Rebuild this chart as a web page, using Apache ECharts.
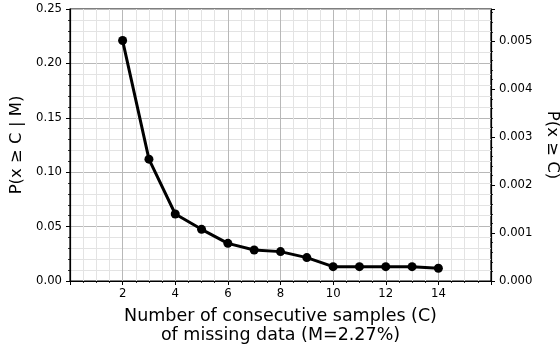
<!DOCTYPE html>
<html>
<head>
<meta charset="utf-8">
<script src="https://cdn.jsdelivr.net/npm/echarts@6/dist/echarts.min.js"></script>
<style>html,body{margin:0;padding:0;background:#fff;}#c{width:560px;height:350px;}</style>
</head>
<body>
<div id="c"></div>
<script>
const consecutiveSamples = [2, 3, 4, 5, 6, 7, 8, 9, 10, 11, 12, 13, 14];
const probGivenM = [0.221, 0.112, 0.0616, 0.0475, 0.0346, 0.0285, 0.0270, 0.0215, 0.0132, 0.0132, 0.0132, 0.0132, 0.0117];
const missingRate = 0.0227;
const xTitle = 'Number of consecutive samples (C)\nof missing data (M=2.27%)';
const leftTitle = 'P(x \u2265 C | M)';
const rightTitle = 'P(x \u2265 C)';

const FONT = 'DejaVu Sans';
const chart = echarts.init(document.getElementById('c'), null, {renderer: 'canvas'});
const axisLine = {show: true, lineStyle: {color: '#000', width: 1.2}};
chart.setOption({
  animation: false,
  backgroundColor: '#fff',
  grid: {left: 70, right: 69, top: 9, bottom: 69, show: true, borderColor: '#000', borderWidth: 1.2,
    containLabel: false, outerBoundsMode: 'none'},
  xAxis: {
    type: 'value', min: 0, max: 16, interval: 2,
    name: xTitle, nameLocation: 'middle', nameGap: 26,
    nameTextStyle: {fontFamily: FONT, fontSize: 17.5, color: '#000', lineHeight: 19},
    axisLine: axisLine,
    axisTick: {show: true, inside: false, length: 4, lineStyle: {color: '#000', width: 1}},
    minorTick: {show: true, splitNumber: 4, length: 2, lineStyle: {color: '#000', width: 0.8}},
    axisLabel: {fontFamily: FONT, fontSize: 11.7, color: '#000', margin: 7,
      formatter: v => (v === 0 || v === 16) ? '' : String(v)},
    splitLine: {show: true, lineStyle: {color: '#b8b8b8', width: 1}},
    minorSplitLine: {show: true, lineStyle: {color: '#e3e3e3', width: 1}}
  },
  yAxis: [{
    type: 'value', min: 0, max: 0.25, interval: 0.05, position: 'left',
    name: leftTitle, nameLocation: 'middle', nameRotate: 90, nameGap: 45,
    nameTextStyle: {fontFamily: FONT, fontSize: 16.5, color: '#000'},
    axisLine: axisLine,
    axisTick: {show: true, inside: false, length: 4, lineStyle: {color: '#000', width: 1}},
    minorTick: {show: true, splitNumber: 5, length: 2, lineStyle: {color: '#000', width: 0.8}},
    axisLabel: {fontFamily: FONT, fontSize: 11.7, color: '#000', margin: 8, formatter: v => v.toFixed(2)},
    splitLine: {show: true, lineStyle: {color: '#b8b8b8', width: 1}},
    minorSplitLine: {show: true, lineStyle: {color: '#e3e3e3', width: 1}}
  }, {
    type: 'value', min: 0, max: 0.25 * missingRate, interval: 0.001, position: 'right',
    name: rightTitle, nameLocation: 'middle', nameRotate: -90, nameGap: 52,
    nameTextStyle: {fontFamily: FONT, fontSize: 16.5, color: '#000'},
    axisLine: axisLine,
    axisTick: {show: true, inside: false, length: 4, lineStyle: {color: '#000', width: 1}},
    minorTick: {show: true, splitNumber: 5, length: 2, lineStyle: {color: '#000', width: 0.8}},
    axisLabel: {fontFamily: FONT, fontSize: 11.7, color: '#000', margin: 8, showMaxLabel: false,
      formatter: v => v.toFixed(3)},
    splitLine: {show: false},
    minorSplitLine: {show: false}
  }],
  series: [{
    type: 'line', yAxisIndex: 0,
    data: consecutiveSamples.map((c, i) => [c, probGivenM[i]]),
    lineStyle: {color: '#000', width: 3},
    itemStyle: {color: '#000'},
    symbol: 'circle', symbolSize: 9, showSymbol: true
  }]
});
</script>
</body>
</html>
